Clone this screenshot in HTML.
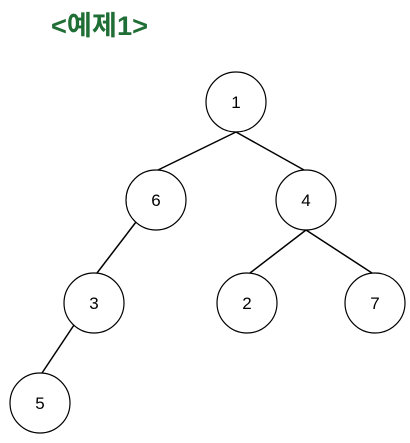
<!DOCTYPE html>
<html><head><style>
body{margin:0;width:410px;height:438px;background:#fff;overflow:hidden}
</style></head><body>
<svg width="410" height="438" xmlns="http://www.w3.org/2000/svg">
<text x="51" y="35" font-family="'Liberation Sans','Noto Sans CJK KR',sans-serif" font-size="27" font-weight="bold" fill="#1f6e35" textLength="97" lengthAdjust="spacingAndGlyphs">&lt;예제1&gt;</text>
<g stroke="#000" stroke-width="1.5" fill="none">
<line x1="236" y1="132" x2="158" y2="170"/>
<line x1="236" y1="132" x2="304" y2="170"/>
<line x1="136" y1="222" x2="97" y2="273"/>
<line x1="306" y1="230" x2="250" y2="273"/>
<line x1="306" y1="230" x2="372" y2="273"/>
<line x1="74" y1="325" x2="42" y2="373"/>
</g>
<g stroke="#000" stroke-width="1.2" fill="#fff">
<circle cx="236" cy="102" r="30"/>
<circle cx="156" cy="200" r="30"/>
<circle cx="306" cy="200" r="30"/>
<circle cx="94" cy="303" r="30"/>
<circle cx="247" cy="303" r="30"/>
<circle cx="375" cy="303" r="30"/>
<circle cx="40" cy="403" r="30"/>
</g>
<g font-family="'Liberation Sans',sans-serif" font-size="17" text-anchor="middle" fill="#000">
<text x="236" y="108">1</text>
<text x="156" y="206">6</text>
<text x="306" y="206">4</text>
<text x="94" y="309">3</text>
<text x="247" y="309">2</text>
<text x="375" y="309">7</text>
<text x="40" y="409">5</text>
</g>
</svg>
</body></html>
